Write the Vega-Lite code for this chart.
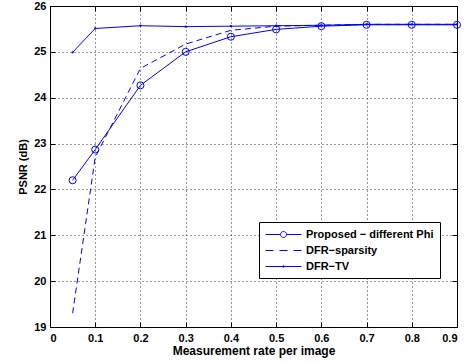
{
  "$schema": "https://vega.github.io/schema/vega-lite/v6.json",
  "width": 407,
  "height": 321,
  "autosize": {"type": "none"},
  "padding": {"left": 50, "top": 6, "right": 12, "bottom": 35},
  "background": "white",
  "config": {
    "font": "Liberation Sans",
    "view": {"stroke": "black", "strokeWidth": 1},
    "axis": {
      "labelFont": "Liberation Sans", "labelFontWeight": "bold", "labelFontSize": 11, "labelColor": "black",
      "titleFont": "Liberation Sans", "titleFontWeight": "bold", "titleFontSize": 11, "titleColor": "black",
      "domainColor": "black", "domainWidth": 1, "tickColor": "black", "tickSize": -5, "tickWidth": 1,
      "gridColor": "#333", "gridDash": [1, 3], "gridWidth": 1, "gridOpacity": 1
    }
  },
  "data": {"values": [
    {"x": 0.05, "y": 22.2, "s": "Proposed − different Phi"},
    {"x": 0.1, "y": 22.87, "s": "Proposed − different Phi"},
    {"x": 0.2, "y": 24.27, "s": "Proposed − different Phi"},
    {"x": 0.3, "y": 25.0, "s": "Proposed − different Phi"},
    {"x": 0.4, "y": 25.33, "s": "Proposed − different Phi"},
    {"x": 0.5, "y": 25.49, "s": "Proposed − different Phi"},
    {"x": 0.6, "y": 25.56, "s": "Proposed − different Phi"},
    {"x": 0.7, "y": 25.59, "s": "Proposed − different Phi"},
    {"x": 0.8, "y": 25.59, "s": "Proposed − different Phi"},
    {"x": 0.9, "y": 25.59, "s": "Proposed − different Phi"},
    {"x": 0.05, "y": 19.3, "s": "DFR−sparsity"},
    {"x": 0.1, "y": 22.7, "s": "DFR−sparsity"},
    {"x": 0.2, "y": 24.64, "s": "DFR−sparsity"},
    {"x": 0.3, "y": 25.17, "s": "DFR−sparsity"},
    {"x": 0.4, "y": 25.47, "s": "DFR−sparsity"},
    {"x": 0.5, "y": 25.56, "s": "DFR−sparsity"},
    {"x": 0.6, "y": 25.58, "s": "DFR−sparsity"},
    {"x": 0.7, "y": 25.6, "s": "DFR−sparsity"},
    {"x": 0.8, "y": 25.6, "s": "DFR−sparsity"},
    {"x": 0.9, "y": 25.6, "s": "DFR−sparsity"},
    {"x": 0.05, "y": 24.99, "s": "DFR−TV"},
    {"x": 0.1, "y": 25.51, "s": "DFR−TV"},
    {"x": 0.2, "y": 25.57, "s": "DFR−TV"},
    {"x": 0.3, "y": 25.55, "s": "DFR−TV"},
    {"x": 0.4, "y": 25.56, "s": "DFR−TV"},
    {"x": 0.5, "y": 25.57, "s": "DFR−TV"},
    {"x": 0.6, "y": 25.58, "s": "DFR−TV"},
    {"x": 0.7, "y": 25.6, "s": "DFR−TV"},
    {"x": 0.8, "y": 25.6, "s": "DFR−TV"},
    {"x": 0.9, "y": 25.6, "s": "DFR−TV"}
  ]},
  "resolve": {"axis": {"x": "independent", "y": "independent"}},
  "layer": [
    {
      "transform": [{"filter": "datum.s === 'DFR−sparsity'"}],
      "mark": {"type": "line", "color": "#0000ff", "strokeWidth": 1, "strokeDash": [6, 4]},
      "encoding": {
        "x": {"field": "x", "type": "quantitative", "scale": {"domain": [0, 0.9], "nice": false},
          "axis": {"orient": "bottom", "values": [0, 0.1, 0.2, 0.3, 0.4, 0.5, 0.6, 0.7, 0.8, 0.9], "format": "~g", "title": "Measurement rate per image", "labelPadding": 10, "titlePadding": 2, "titleFontSize": 12}},
        "y": {"field": "y", "type": "quantitative", "scale": {"domain": [19, 26], "nice": false},
          "axis": {"orient": "left", "values": [19, 20, 21, 22, 23, 24, 25, 26], "title": "PSNR (dB)", "labelPadding": 9, "titlePadding": 5}}
      }
    },
    {
      "transform": [{"filter": "datum.s === 'Proposed − different Phi'"}],
      "mark": {"type": "line", "color": "#0000ff", "strokeWidth": 1, "point": {"shape": "circle", "filled": false, "size": 50, "strokeWidth": 1, "color": "#0000ff"}},
      "encoding": {
        "x": {"field": "x", "type": "quantitative", "axis": null},
        "y": {"field": "y", "type": "quantitative", "axis": null}
      }
    },
    {
      "transform": [{"filter": "datum.s === 'DFR−TV'"}],
      "mark": {"type": "line", "color": "#0000ff", "strokeWidth": 1, "point": {"shape": "circle", "filled": true, "size": 5, "color": "#0000ff"}},
      "encoding": {
        "x": {"field": "x", "type": "quantitative", "axis": null},
        "y": {"field": "y", "type": "quantitative", "axis": null}
      }
    },
    {
      "mark": {"type": "point", "opacity": 0, "filled": false},
      "encoding": {
        "x": {"field": "x", "type": "quantitative",
          "axis": {"orient": "top", "values": [0, 0.1, 0.2, 0.3, 0.4, 0.5, 0.6, 0.7, 0.8, 0.9], "labels": false, "grid": false, "title": null}},
        "y": {"field": "y", "type": "quantitative",
          "axis": {"orient": "right", "values": [19, 20, 21, 22, 23, 24, 25, 26], "labels": false, "grid": false, "title": null}},
        "shape": {"field": "s", "type": "nominal",
          "scale": {"domain": ["Proposed − different Phi", "DFR−sparsity", "DFR−TV"],
            "range": [
              "M-1,0H1.5M2.5,0A0.5,0.5 0 1,0 1.5,0A0.5,0.5 0 1,0 2.5,0M2.5,0H5",
              "M-1,0H0.33M1.33,0H2.67M3.67,0H5",
              "M-1,0H5M1.9,-0.1H2.1V0.1H1.9Z"
            ]},
          "legend": {
            "title": null, "orient": "none", "legendX": 209, "legendY": 216,
            "symbolSize": 144, "symbolStrokeColor": "#0000ff", "symbolFillColor": "transparent", "symbolStrokeWidth": 1, "symbolOpacity": 1,
            "labelFont": "Liberation Sans", "labelFontWeight": "bold", "labelFontSize": 11, "labelColor": "black", "labelOffset": 28,
            "rowPadding": 4, "padding": 6, "strokeColor": "black", "fillColor": "white", "labelLimit": 300
          }}
      }
    }
  ]
}
